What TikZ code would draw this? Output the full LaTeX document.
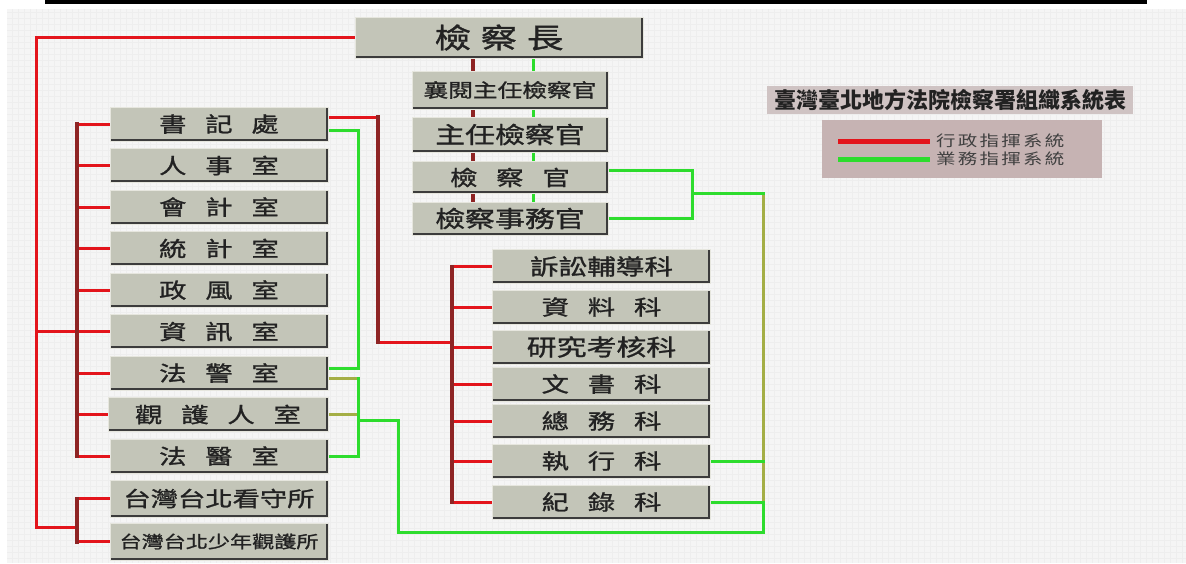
\documentclass[tikz,border=0pt]{standalone}
\usepackage{fontspec}
\newfontfamily\cjk[FakeStretch=1.3,FakeBold=1.2]{Noto Sans CJK TC}
\newfontfamily\cjkplain{Noto Sans CJK TC}
\newfontfamily\cjkleg[FakeStretch=1.3,LetterSpace=15]{Noto Sans CJK TC}
\newcommand{\kg}{\hspace{0.9em}}
\definecolor{redline}{HTML}{E3141B}
\definecolor{darkred}{HTML}{8E2424}
\definecolor{greenline}{HTML}{2DDC2D}
\definecolor{oliveline}{HTML}{A4AE45}
\definecolor{boxgray}{HTML}{C3C5B8}
\definecolor{boxlight}{HTML}{E6E6DE}
\definecolor{bevelgray}{HTML}{3C3C3C}
\definecolor{inkgray}{HTML}{222222}
\definecolor{paper}{HTML}{F5F5F5}
\definecolor{gridgray}{HTML}{EEEEEE}
\definecolor{titlebg}{HTML}{CFC3C3}
\definecolor{keybg}{HTML}{C6B3B3}
\tikzset{
    unit/.style={rectangle, fill=boxgray, draw=boxlight, line width=0.6pt,
    	minimum width=218pt, minimum height=34pt, inner sep=0pt, text=inkgray,
    	font=\cjk\fontsize{21}{24}\selectfont,
    	path picture={\draw[line width=5pt, bevelgray]
    		(path picture bounding box.north east) --
    		(path picture bounding box.south east) --
    		(path picture bounding box.south west);}},
    sz/.style={font=\cjk\fontsize{#1}{#1}\selectfont}
}
\tikzset{
    rline/.style={draw=redline, line width=3pt, line cap=rect},
    rtrunk/.style={draw=darkred, line width=4pt, line cap=rect},
    gline/.style={draw=greenline, line width=3pt, line cap=rect},
    oline/.style={draw=oliveline, line width=3pt, line cap=rect}
}
\tikzset{
    titlebar/.style={rectangle, fill=titlebg, minimum width=366pt,
    	minimum height=28pt, inner sep=0pt, text=inkgray,
    	font=\cjkplain\bfseries\fontsize{22}{22}\selectfont},
    keybox/.style={rectangle, fill=keybg, minimum width=280pt,
    	minimum height=58pt},
    keytext/.style={inner sep=0pt, text=black!75,
    	font=\cjkleg\fontsize{15}{15}\selectfont}
}
\pgfdeclarelayer{paper}
\pgfdeclarelayer{background}
\pgfsetlayers{paper,background,main}
\begin{document}
\begin{tikzpicture}[x=1pt,y=-1pt]
	\useasboundingbox (0,0) rectangle (1186,563);
	\begin{pgfonlayer}{paper}
	\fill[paper] (7,9) rectangle (1186,563);
	\draw[gridgray, line width=0.3pt, step=6pt] (7,9) grid (1186,563);
	\fill[black] (45,0) rectangle (1147,4);
	\end{pgfonlayer}

	\node (chief) [unit, minimum width=288pt, minimum height=41pt, sz=28]
		at (499,37.5) {檢\hspace{0.35em}察\hspace{0.35em}長};
	\node (dep) [unit, minimum width=196pt, minimum height=38pt, sz=19]
		at (510,90) {襄閱主任檢察官};
	\node (cpro) [unit, minimum width=196pt, minimum height=35pt, sz=23]
		at (510,134.5) {主任檢察官};
	\node (pro) [unit, minimum width=196pt, minimum height=32pt]
		at (510,177.5) {檢\kg 察\kg 官};
	\node (aide) [unit, minimum width=196pt, minimum height=33pt, sz=23]
		at (510,218.5) {檢察事務官};

	\node (clerk) [unit] at (219,124) {書\kg 記\kg 處};
	\node (pers) [unit] at (219,165.5) {人\kg 事\kg 室};
	\node (acct) [unit] at (219,207) {會\kg 計\kg 室};
	\node (stat) [unit] at (219,248.5) {統\kg 計\kg 室};
	\node (ethic) [unit] at (219,290) {政\kg 風\kg 室};
	\node (info) [unit] at (219,331.5) {資\kg 訊\kg 室};
	\node (bail) [unit] at (219,373) {法\kg 警\kg 室};
	\node (prob) [unit, minimum width=220pt] at (218,414.5) {觀\kg 護\kg 人\kg 室};
	\node (med) [unit] at (219,456) {法\kg 醫\kg 室};
	\node (det) [unit, minimum height=37pt] at (219,498.5) {台灣台北看守所};
	\node (juv) [unit, minimum height=37pt, sz=17] at (219,541.5) {台灣台北少年觀護所};

	\node (lit) [unit, sz=22] at (601.5,266.5) {訴訟輔導科};
	\node (data) [unit] at (601.5,307) {資\kg 料\kg 科};
	\node (rsch) [unit, sz=23] at (601.5,347) {研究考核科};
	\node (doc) [unit] at (601.5,384) {文\kg 書\kg 科};
	\node (gen) [unit] at (601.5,421) {總\kg 務\kg 科};
	\node (exe) [unit] at (601.5,461) {執\kg 行\kg 科};
	\node (rec) [unit] at (601.5,502) {紀\kg 錄\kg 科};

	% legend
	\node (ttl) [titlebar] at (950,100) {臺灣臺北地方法院檢察署組織系統表};
	\node (key) [keybox] at (962,149) {};
	\draw[redline, line width=5pt] (838,141) -- (930,141);
	\draw[greenline, line width=5pt] (838,159) -- (930,159);
	\node (keyr) [keytext, anchor=west] at (936,141) {行政指揮系統};
	\node (keyg) [keytext, anchor=west] at (936,159) {業務指揮系統};

	\coordinate (lo) at (36,527);
	\coordinate (lt) at (77,0);
	\coordinate (cm) at (378,342);
	\coordinate (rt) at (452,0);
	\coordinate (mr) at (473,0);
	\coordinate (mg) at (533,0);
	\coordinate (gl) at (358,0);
	\coordinate (gj) at (358,420);
	\coordinate (gb) at (398,532);
	\coordinate (gr) at (763,193);
	\coordinate (gp) at (692,193);

	\begin{pgfonlayer}{background}
	% red: administration
	\draw[rline] (chief.west) -| (lo) -- (lo -| lt);
	\draw[rline] (lo |- info.west) -- (info.west -| lt);
	\foreach \n in {clerk,pers,acct,stat,ethic,info,bail,prob,med,det,juv}
		\draw[rline] (\n.west -| lt) -- (\n.west);
	\draw (clerk.west -| lt) edge [rtrunk] (med.west -| lt);
	\draw (det.west -| lt) edge [rtrunk] (juv.west -| lt);
	\draw[rline] ([yshift=7pt]clerk.east) -- ([yshift=7pt]clerk.east -| cm);
	\draw[rline] (cm) -- (cm -| rt);
	\draw ([yshift=7pt]clerk.east -| cm) edge [rtrunk] (cm);
	\foreach \n in {lit,data,rsch,doc,gen,exe,rec}
		\draw[rline] (\n.west -| rt) -- (\n.west);
	\draw (lit.west -| rt) edge [rtrunk] (rec.west -| rt);
	\foreach \a/\b in {chief/dep,dep/cpro,cpro/pro,pro/aide}{
		\draw (\a.south -| mr) edge [rtrunk] (\b.north -| mr);
		\draw (\a.south -| mg) edge [gline] (\b.north -| mg);
	}
	% green: operations
	\draw[gline] ([yshift=-6pt]clerk.east) -- ([yshift=-6pt]clerk.east -| gl)
		-- ([yshift=5pt]bail.east -| gl) -- ([yshift=5pt]bail.east);
	\draw[oline] ([yshift=-5pt]bail.east) -- ([yshift=-5pt]bail.east -| gl);
	\draw[oline] (prob.east) -- (prob.east -| gl);
	\draw[gline] ([yshift=-5pt]bail.east -| gl) -- (med.east -| gl) -- (med.east);
	\draw[gline] (gj) -| (gb) -- (gb -| gr) -- (rec.east -| gr);
	\draw[oline] (rec.east -| gr) -- (gr);
	\draw[gline] (gr) -- (gp);
	\draw[gline] ([yshift=7pt]pro.east) -| (gp) |- (aide.east);
	\draw[gline] (exe.east) -- (exe.east -| gr);
	\draw[gline] (rec.east) -- (rec.east -| gr);
	\end{pgfonlayer}
\end{tikzpicture}
\end{document}
